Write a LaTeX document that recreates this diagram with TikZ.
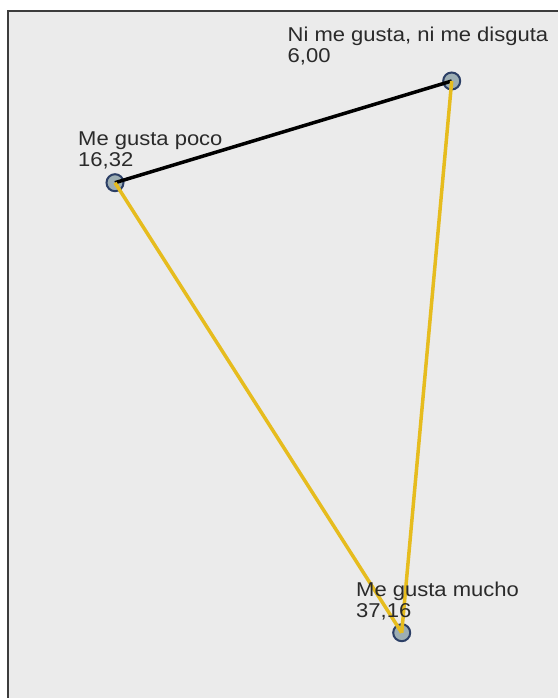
\documentclass[tikz,border=0pt]{standalone}
\usepackage{fontspec}
\newfontfamily\plotfont[FakeStretch=1.1]{Liberation Sans}
\usepackage{tikz}
\usetikzlibrary{positioning}
\definecolor{plotbg}{HTML}{EBEBEB}
\definecolor{plotframe}{HTML}{3C3C3C}
\definecolor{plotgold}{HTML}{E6BC1E}
\definecolor{plotnavy}{HTML}{2C3F66}
\definecolor{plotdot}{HTML}{9DAEB3}
\definecolor{plotink}{HTML}{2A2A2A}
\tikzset{
  dot/.style={circle, draw=plotnavy, fill=plotdot, line width=2pt, minimum size=17pt, inner sep=0pt},
  lbl/.style={anchor=base west, align=left, inner sep=0pt, text=plotink, font=\plotfont\fontsize{20}{21}\selectfont},
  blk/.style={line width=3.5pt, color=black},
  gld/.style={line width=3.5pt, color=plotgold},
}
\begin{document}
\begin{tikzpicture}[x=1pt, y=-1pt]
    \useasboundingbox (0,0) rectangle (558,698);
    \fill[white] (0,0) rectangle (558,698);
    \fill[plotbg] (7.5,11) rectangle (558,698);
    \draw[plotframe, line width=2pt] (7.5,698) -- (7.5,11) -- (558,11);
    \node[dot] (poco) at (115,182.7) {};
    \node[dot] (ni) at (451.7,81) {};
    \node[dot] (mucho) at (401.7,632.7) {};
    \draw[blk] (poco.center) -- (ni.center);
    \draw[gld] (poco.center) -- (mucho.center);
    \draw[gld] (ni.center) -- (mucho.center);
    \node[lbl] (lpoco) at (78,166.5) {Me gusta poco\\16,32};
    \node[lbl] (lni) at (287.5,63) {Ni me gusta, ni me disguta\\6,00};
    \node[lbl] (lmucho) at (356,617) {Me gusta mucho\\37,16};
  \end{tikzpicture}
\end{document}
